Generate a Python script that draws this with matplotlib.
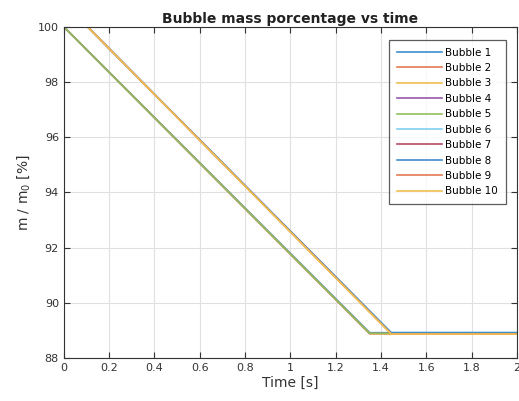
import matplotlib
matplotlib.use("Agg")
import matplotlib.pyplot as plt

bubbles = [f"Bubble {i}" for i in range(1, 11)]
colors = ["#3f8fd0", "#e27a50", "#f0c050", "#9a5aaa", "#8fc060",
          "#80d0f0", "#b84a60", "#3f8fd0", "#e27a50", "#f0c050"]
t_start = [0.0, 0.0, 0.0, 0.0, 0.0, 0.105, 0.105, 0.105, 0.105, 0.105]
t_break = [1.35, 1.35, 1.35, 1.35, 1.35, 1.445, 1.445, 1.445, 1.445, 1.445]
m_end = [88.92, 88.88, 88.88, 88.90, 88.90, 88.92, 88.90, 88.92, 88.88, 88.87]
t_end = 2.0
m_start = 100.0

fig = plt.figure(figsize=(5.19, 4.01), dpi=100)
ax = fig.add_axes([0.123, 0.107, 0.873, 0.826])

for name, c, ts, tb, me in zip(bubbles, colors, t_start, t_break, m_end):
    ax.plot([ts, tb, t_end], [m_start, me, me], color=c, lw=1.2, label=name)

ax.set_xlim(0, 2)
ax.set_ylim(88, 100)
ax.set_xticks([0, 0.2, 0.4, 0.6, 0.8, 1, 1.2, 1.4, 1.6, 1.8, 2])
ax.set_xticklabels(["0", "0.2", "0.4", "0.6", "0.8", "1", "1.2", "1.4", "1.6", "1.8", "2"])
ax.set_yticks([88, 90, 92, 94, 96, 98, 100])
ax.grid(True, color="#e0e0e0", lw=0.8)
ax.tick_params(direction="in", length=4, labelsize=8, colors="#333333",
               top=True, right=True)
for s in ax.spines.values():
    s.set_color("#333333")
    s.set_linewidth(0.8)

ax.set_title("Bubble mass porcentage vs time", fontsize=10, fontweight="bold",
             color="#222222", pad=3)
ax.set_xlabel("Time [s]", fontsize=10, color="#333333", labelpad=2)
ax.set_ylabel(r"m / m$_0$ [%]", fontsize=10, color="#333333", labelpad=4)

leg = ax.legend(loc="upper right", bbox_to_anchor=(0.976, 0.961), fontsize=7.5,
                frameon=True, fancybox=False, edgecolor="#333333",
                handlelength=4.3, labelspacing=0.52, borderpad=0.75,
                handletextpad=0.35, borderaxespad=0)
leg.get_frame().set_linewidth(0.9)

fig.savefig("out.png", dpi=100)
